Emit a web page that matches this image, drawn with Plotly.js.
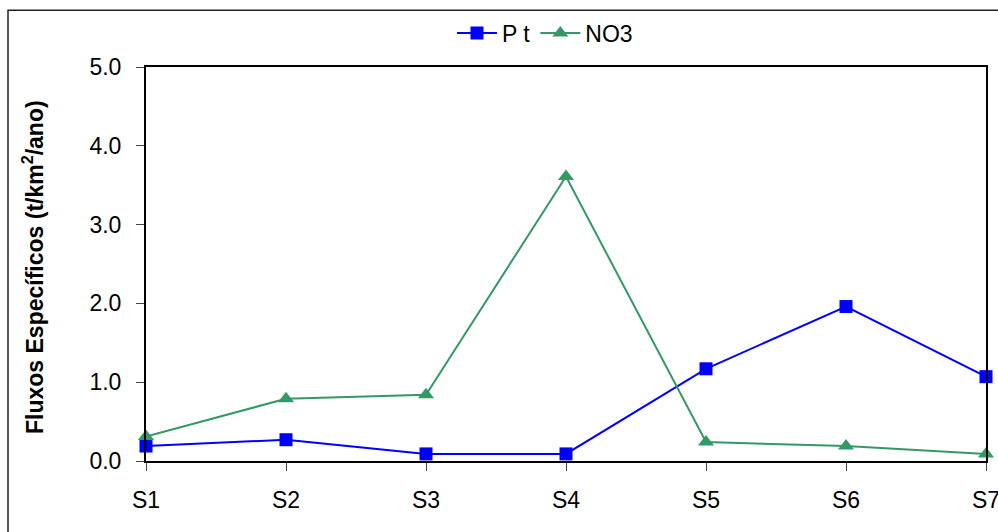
<!DOCTYPE html>
<html>
<head>
<meta charset="utf-8">
<script src="https://cdn.plot.ly/plotly-3.0.1.min.js"></script>
<style>html,body{margin:0;padding:0;background:#fff;}#chart{width:998px;height:532px;}</style>
</head>
<body>
<div id="chart"></div>
<script>
const categories = ["S1", "S2", "S3", "S4", "S5", "S6", "S7"];
const ptValues = [0.19, 0.27, 0.09, 0.09, 1.17, 1.96, 1.07];
const no3Values = [0.31, 0.79, 0.84, 3.61, 0.24, 0.19, 0.09];
const yTickVals = [0, 1, 2, 3, 4, 5];
const yTickText = ["0.0", "1.0", "2.0", "3.0", "4.0", "5.0"];

const font = "Liberation Sans, Arial, sans-serif";

const traces = [
  {
    x: categories, y: ptValues, name: "P t", type: "scatter", mode: "lines+markers",
    line: {color: "#0000FF", width: 2},
    marker: {symbol: "square", size: 13, color: "#0000FF"},
    cliponaxis: false
  },
  {
    x: categories, y: no3Values, name: "NO3", type: "scatter", mode: "lines+markers",
    line: {color: "#339966", width: 2},
    marker: {symbol: "triangle-up", size: 14, color: "#339966"},
    cliponaxis: false
  }
];

const layout = {
  width: 998, height: 532,
  margin: {l: 146, r: 12, t: 65, b: 71},
  paper_bgcolor: "#fff", plot_bgcolor: "#fff",
  font: {family: font, size: 23, color: "#000"},
  showlegend: true,
  legend: {
    orientation: "h", x: 0.475, xanchor: "center", y: 1.086, yanchor: "middle",
    font: {family: font, size: 23, color: "#000"}, bgcolor: "rgba(0,0,0,0)",
    itemwidth: 40, tracegroupgap: 0
  },
  xaxis: {
    type: "category", range: [0, 6], showgrid: false, zeroline: false,
    showline: true, linecolor: "#000", linewidth: 2, mirror: true,
    ticks: "outside", ticklen: 8, tickcolor: "#444", tickwidth: 1,
    ticklabelstandoff: 9,
    tickfont: {family: font, size: 23, color: "#000"}
  },
  yaxis: {
    range: [0, 5], tickvals: yTickVals, ticktext: yTickText, showgrid: false, zeroline: false,
    showline: true, linecolor: "#000", linewidth: 2, mirror: true,
    ticks: "outside", ticklen: 8, tickcolor: "#444", tickwidth: 1,
    ticklabelstandoff: 10,
    tickfont: {family: font, size: 23, color: "#000"}
  },
  annotations: [{
    text: "<b>Fluxos Específicos (t/km<sup>2</sup>/ano)</b>",
    xref: "paper", yref: "paper", x: (33 - 146) / 840, y: (461 - 266) / 396,
    xanchor: "center", yanchor: "middle", textangle: -90, showarrow: false,
    font: {family: font, size: 23, color: "#000"}
  }],
  shapes: [{
    type: "rect", xref: "paper", yref: "paper",
    x0: (8 - 146) / 840, x1: 1.1, y0: -0.3, y1: (461 - 8) / 396,
    line: {color: "#222", width: 1.5}, fillcolor: "rgba(0,0,0,0)", layer: "below"
  }]
};

Plotly.newPlot("chart", traces, layout, {displayModeBar: false, staticPlot: true});
</script>
</body>
</html>
